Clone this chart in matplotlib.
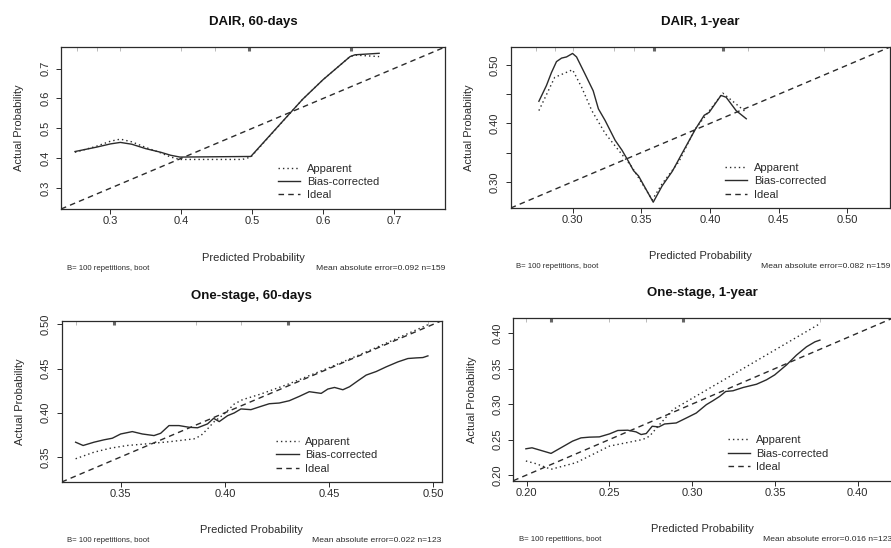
import matplotlib
matplotlib.use("Agg")
import matplotlib.pyplot as plt

plt.rcParams['font.family'] = ['Liberation Sans', 'DejaVu Sans']

# DAIR, 60-days
dair60_x_bias = [0.250, 0.280, 0.300, 0.314, 0.330, 0.350, 0.371, 0.385, 0.398, 0.498, 0.571, 0.600, 0.638, 0.645, 0.679]
dair60_y_bias = [0.4225, 0.437, 0.448, 0.453, 0.447, 0.432, 0.420, 0.410, 0.404, 0.406, 0.597, 0.663, 0.740, 0.746, 0.751]
dair60_x_app = [0.250, 0.280, 0.300, 0.314, 0.330, 0.350, 0.371, 0.385, 0.398, 0.486, 0.498, 0.571, 0.600, 0.638, 0.645, 0.679]
dair60_y_app = [0.420, 0.440, 0.457, 0.464, 0.455, 0.436, 0.418, 0.404, 0.396, 0.396, 0.404, 0.597, 0.663, 0.740, 0.745, 0.740]
dair60_rug = [0.2524, 0.281, 0.314, 0.400, 0.447]
dair60_rug_dense = [0.4953, 0.640]

# DAIR, 1-year
dair1y_x_bias = [0.2755, 0.281, 0.2846, 0.2883, 0.292, 0.2956, 0.300, 0.3029, 0.309, 0.315, 0.3188, 0.3237,
                 0.331, 0.336, 0.3408, 0.3444, 0.348, 0.3587, 0.3652, 0.3726, 0.380, 0.3896, 0.3958,
                 0.3994, 0.408, 0.4117, 0.419, 0.4264]
dair1y_y_bias = [0.438, 0.465, 0.487, 0.506, 0.512, 0.514, 0.520, 0.514, 0.485, 0.456, 0.425, 0.405,
                 0.371, 0.354, 0.3345, 0.319, 0.310, 0.265, 0.293, 0.318, 0.350, 0.391, 0.414,
                 0.419, 0.448, 0.445, 0.422, 0.408]
dair1y_x_app = [0.2755, 0.287, 0.300, 0.3066, 0.314, 0.3237, 0.3335, 0.343, 0.358, 0.365, 0.3775, 0.3885,
                0.397, 0.4093, 0.4264]
dair1y_y_app = [0.422, 0.479, 0.492, 0.462, 0.422, 0.383, 0.354, 0.326, 0.269, 0.296, 0.335, 0.388,
                0.414, 0.452, 0.419]
dair1y_rug = [0.2736, 0.287, 0.3005, 0.3298, 0.3445, 0.4277, 0.4826]
dair1y_rug_dense = [0.3592, 0.4093]

# One-stage, 60-days
one60_x_bias = [0.3284, 0.332, 0.3372, 0.342, 0.346, 0.350, 0.3556, 0.3604, 0.366, 0.3692, 0.3732, 0.378,
                0.3828, 0.3869, 0.3917, 0.3946, 0.3973, 0.4013, 0.4045, 0.4077, 0.4125, 0.4173, 0.4213,
                0.4261, 0.4309, 0.4357, 0.4405, 0.4462, 0.4494, 0.4526, 0.4566, 0.4598, 0.4638, 0.4678,
                0.4726, 0.4774, 0.483, 0.4878, 0.4918, 0.495, 0.4974]
one60_y_bias = [0.3667, 0.363, 0.3667, 0.3694, 0.3712, 0.376, 0.3787, 0.376, 0.3742, 0.3768, 0.3855, 0.3855,
                0.3836, 0.383, 0.3874, 0.3937, 0.390, 0.3967, 0.3998, 0.4043, 0.4035, 0.4072, 0.4102,
                0.411, 0.4136, 0.4185, 0.4238, 0.4219, 0.4268, 0.4286, 0.426, 0.4294, 0.4361, 0.4426,
                0.4466, 0.4519, 0.4575, 0.4613, 0.462, 0.4624, 0.4643]
one60_x_app = [0.3284, 0.3372, 0.3452, 0.3532, 0.3628, 0.374, 0.3852, 0.3885, 0.3917, 0.3949, 0.3997,
               0.4045, 0.4085, 0.4173, 0.430, 0.450, 0.470, 0.4974]
one60_y_app = [0.348, 0.3554, 0.360, 0.363, 0.3649, 0.3674, 0.3705, 0.3742, 0.3818, 0.390, 0.3986,
               0.4099, 0.4148, 0.4212, 0.432, 0.451, 0.471, 0.4995]
one60_rug = [0.3284, 0.386, 0.4077, 0.4974]
one60_rug_dense = [0.3468, 0.4301]

# One-stage, 1-year
one1y_x_bias = [0.1996, 0.2033, 0.2087, 0.2148, 0.2218, 0.2278, 0.2329, 0.238, 0.244, 0.2501, 0.2551,
                0.2611, 0.2662, 0.2692, 0.2723, 0.2759, 0.2799, 0.2834, 0.2904, 0.2965, 0.3025, 0.3086,
                0.3126, 0.3166, 0.3203, 0.3247, 0.3308, 0.3389, 0.3449, 0.3499, 0.357, 0.3631, 0.3691,
                0.3742, 0.3772]
one1y_y_bias = [0.237, 0.2384, 0.2347, 0.2305, 0.2398, 0.2478, 0.2524, 0.2534, 0.2538, 0.258, 0.2628,
                0.2632, 0.2608, 0.2571, 0.2585, 0.2688, 0.2678, 0.272, 0.2734, 0.2804, 0.2874, 0.2992,
                0.3048, 0.3108, 0.3178, 0.3188, 0.3234, 0.328, 0.3342, 0.3412, 0.3552, 0.3692, 0.3808,
                0.3878, 0.3902]
one1y_x_app = [0.1996, 0.2057, 0.2148, 0.2299, 0.2501, 0.2702, 0.2743, 0.2803, 0.2884, 0.3772]
one1y_y_app = [0.2198, 0.216, 0.2081, 0.2174, 0.2408, 0.2501, 0.2548, 0.2711, 0.2922, 0.4134]
one1y_rug = [0.1996, 0.250, 0.2723, 0.3772]
one1y_rug_dense = [0.2148, 0.2944]

panels = [
    dict(title="DAIR, 60-days", pos=[0.0685, 0.6186, 0.4310, 0.2956], lim=(0.2303, 0.772),
         ticks=[0.3, 0.4, 0.5, 0.6, 0.7], ylabels=None, fmt="{:.1f}",
         xb=dair60_x_bias, yb=dair60_y_bias, xa=dair60_x_app, ya=dair60_y_app,
         rug=dair60_rug, rugd=dair60_rug_dense, mae="Mean absolute error=0.092 n=159"),
    dict(title="DAIR, 1-year", pos=[0.5732, 0.6204, 0.4257, 0.2938], lim=(0.255, 0.531),
         ticks=[0.30, 0.35, 0.40, 0.45, 0.50], ylabels=["0.30", "", "0.40", "", "0.50"], fmt="{:.2f}",
         xb=dair1y_x_bias, yb=dair1y_y_bias, xa=dair1y_x_app, ya=dair1y_y_app,
         rug=dair1y_rug, rugd=dair1y_rug_dense, mae="Mean absolute error=0.082 n=159"),
    dict(title="One-stage, 60-days", pos=[0.0692, 0.1204, 0.4265, 0.2943], lim=(0.3217, 0.504),
         ticks=[0.35, 0.40, 0.45, 0.50], ylabels=None, fmt="{:.2f}",
         xb=one60_x_bias, yb=one60_y_bias, xa=one60_x_app, ya=one60_y_app,
         rug=one60_rug, rugd=one60_rug_dense, mae="Mean absolute error=0.022 n=123"),
    dict(title="One-stage, 1-year", pos=[0.5761, 0.1228, 0.4255, 0.2964], lim=(0.192, 0.421),
         ticks=[0.20, 0.25, 0.30, 0.35, 0.40], ylabels=None, fmt="{:.2f}",
         xb=one1y_x_bias, yb=one1y_y_bias, xa=one1y_x_app, ya=one1y_y_app,
         rug=one1y_rug, rugd=one1y_rug_dense, mae="Mean absolute error=0.016 n=123"),
]

ink = '#2b2b2b'
fig = plt.figure(figsize=(8.91, 5.48), dpi=100)

for p in panels:
    ax = fig.add_axes(p["pos"])
    lo, hi = p["lim"]
    ax.set_xlim(lo, hi)
    ax.set_ylim(lo, hi)

    ax.plot(p["xa"], p["ya"], color=ink, lw=1.0, dashes=(1, 2.2), label="Apparent")
    ax.plot(p["xb"], p["yb"], color=ink, lw=1.0, label="Bias-corrected")
    ax.plot([lo, hi], [lo, hi], color=ink, lw=1.0, dashes=(4, 3), label="Ideal")

    # rug of predicted values along the top
    trans = ax.get_xaxis_transform()
    ax.vlines(p["rug"], 0.975, 1.0, transform=trans, color='#b0b0b0', lw=0.6)
    ax.vlines(p["rugd"], 0.975, 1.0, transform=trans, color='#666666', lw=2.2)

    ax.set_xticks(p["ticks"])
    ax.set_xticklabels([p["fmt"].format(t) for t in p["ticks"]])
    ax.set_yticks(p["ticks"])
    ylab = p["ylabels"] if p["ylabels"] else [p["fmt"].format(t) for t in p["ticks"]]
    ax.set_yticklabels(ylab, rotation=90, va='center')
    ax.tick_params(axis='both', direction='out', length=3.3, width=0.7, labelsize=8,
                   colors=ink)
    ax.tick_params(axis='x', pad=2)
    ax.tick_params(axis='y', pad=4.5)
    for s in ax.spines.values():
        s.set_linewidth(0.9)
        s.set_color(ink)

    ax.set_xlabel("Predicted Probability", fontsize=8, color=ink)
    ax.xaxis.set_label_coords(0.5, -0.30)
    ax.xaxis.label.set_va('center')
    ax.set_ylabel("Actual Probability", fontsize=8, color=ink)
    ax.yaxis.set_label_coords(-0.11, 0.5)
    ax.yaxis.label.set_va('center')

    ax.text(0.5, 1.155, p["title"], transform=ax.transAxes, ha='center', va='center',
            fontsize=9.5, fontweight='bold', color='#111111')
    ax.text(0.015, -0.365, "B= 100 repetitions, boot", transform=ax.transAxes,
            ha='left', va='center', fontsize=5.6, color=ink)
    ax.text(1.0, -0.365, p["mae"], transform=ax.transAxes,
            ha='right', va='center', fontsize=6.1, color=ink)

    ax.legend(loc='upper left', bbox_to_anchor=(0.565, 0.28), frameon=False, fontsize=8,
              handlelength=2.0, handletextpad=0.6, labelspacing=0.3, borderpad=0,
              borderaxespad=0, labelcolor=ink)

fig.savefig("out.png", dpi=100)
